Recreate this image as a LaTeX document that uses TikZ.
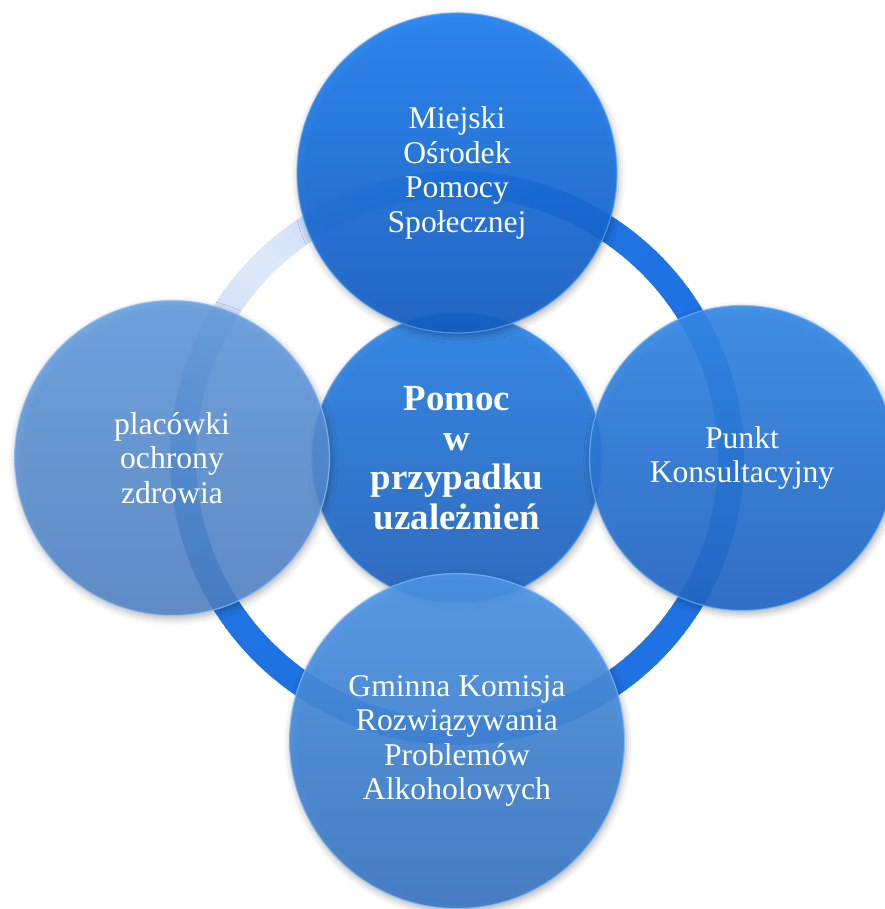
\documentclass[tikz,border=0pt]{standalone}
\usepackage{fontspec}
\setmainfont{Liberation Serif}
\usepackage{xcolor}
\usetikzlibrary{shadows.blur}
\definecolor{ringblue}{HTML}{1E72E2}
\definecolor{ringlight}{HTML}{DCE8FA}
\definecolor{hubtop}{RGB}{40,132,234}
\definecolor{hubbot}{RGB}{34,100,192}
\definecolor{hubrim}{RGB}{90,165,250}
\definecolor{mopstop}{RGB}{30,128,242}
\definecolor{mopsbot}{RGB}{20,94,196}
\definecolor{mopsrim}{RGB}{90,165,250}
\definecolor{zdrtop}{RGB}{96,156,226}
\definecolor{zdrbot}{RGB}{80,132,200}
\definecolor{zdrrim}{RGB}{150,195,245}
\definecolor{punkttop}{RGB}{52,138,234}
\definecolor{punktbot}{RGB}{36,104,198}
\definecolor{punktrim}{RGB}{110,180,252}
\definecolor{komtop}{RGB}{76,150,232}
\definecolor{kombot}{RGB}{60,120,196}
\definecolor{komrim}{RGB}{130,190,250}
\tikzset{
  bubble/.style={circle, inner sep=0pt, align=center, text=white,
    font=\fontsize{18}{19.6}\selectfont, fill opacity=0.9, text opacity=1,
    line width=0.7pt, draw opacity=0.7,
    blur shadow={shadow xshift=0.8pt, shadow yshift=-1.8pt,
      shadow blur radius=4pt, shadow opacity=35}},
  hubbub/.style={bubble, font=\fontsize{21}{22.6}\selectfont\bfseries},
  ringseg/.style={line width=0.52cm, line cap=butt},
}

\begin{document}
\begin{tikzpicture}
\useasboundingbox (-9.14,-9.02) rectangle (8.56,9.16);
\coordinate (mid) at (0,0);
% ring
\foreach \a in {0,2,...,358}{
  \pgfmathtruncatemacro\p{100*(1-pow(max(0,cos(\a-135)),3))}
  \draw[ringseg, ringblue!\p!ringlight] (mid) ++(\a:5.48)
    arc[start angle=\a, end angle=\a+2.3, radius=5.48];
}
% circles
\node[hubbub, minimum size=5.8cm, top color=hubtop, bottom color=hubbot, draw=hubrim]
  (hub) at (mid) {Pomoc\\w\\przypadku\\uzależnień};
\node[bubble, minimum size=6.4cm, top color=mopstop, bottom color=mopsbot, draw=mopsrim]
  (mops) at (0,5.70) {Miejski\\Ośrodek\\Pomocy\\Społecznej};
\node[bubble, minimum size=6.3cm, fill opacity=0.84, top color=zdrtop, bottom color=zdrbot, draw=zdrrim]
  (zdrowie) at (-5.70,0) {placówki\\ochrony\\zdrowia};
\node[bubble, minimum size=6.1cm, top color=punkttop, bottom color=punktbot, draw=punktrim]
  (punkt) at (5.70,0) {Punkt\\Konsultacyjny};
\node[bubble, minimum size=6.7cm, top color=komtop, bottom color=kombot, draw=komrim]
  (komisja) at (0,-5.66) {Gminna Komisja\\Rozwiązywania\\Problemów\\Alkoholowych};
\end{tikzpicture}
\end{document}
